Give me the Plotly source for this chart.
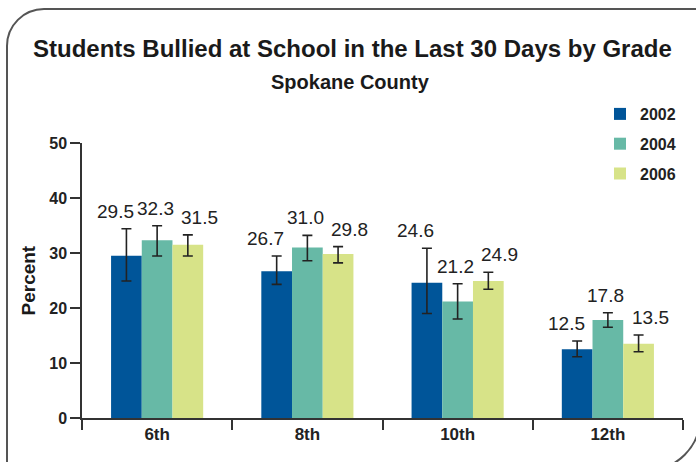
import plotly.graph_objects as go

# ---------------- data ----------------
grades = ["6th", "8th", "10th", "12th"]
years = ["2002", "2004", "2006"]
pct_2002 = [29.5, 26.7, 24.6, 12.5]
pct_2004 = [32.3, 31.0, 21.2, 17.8]
pct_2006 = [31.5, 29.8, 24.9, 13.5]
err_up_2002 = [4.9, 2.75, 6.25, 1.5]
err_dn_2002 = [4.6, 2.4, 5.6, 1.35]
err_up_2004 = [2.65, 2.2, 3.2, 1.35]
err_dn_2004 = [2.85, 2.4, 3.2, 1.3]
err_up_2006 = [1.8, 1.35, 1.6, 1.6]
err_dn_2006 = [2.05, 1.6, 1.5, 1.45]
y_ticks = [0, 10, 20, 30, 40, 50]

title = "Students Bullied at School in the Last 30 Days by Grade"
subtitle = "Spokane County"
y_title = "Percent"

# ---------------- style ----------------
colors = ["#005599", "#67B9A6", "#D7E388"]
label_xshift = [-11, -2, 11.5]
SANS = "Liberation Sans, Arial, sans-serif"
NARROW = "Liberation Sans Narrow, Arial Narrow, Liberation Sans, sans-serif"
TXT = "#222222"
W, H = 696, 462
ML, MR, MT, MB = 82, 13, 143, 44
BARGAP = 0.387

values = [pct_2002, pct_2004, pct_2006]
ups = [err_up_2002, err_up_2004, err_up_2006]
dns = [err_dn_2002, err_dn_2004, err_dn_2006]

fig = go.Figure()
for k, yr in enumerate(years):
    fig.add_trace(go.Bar(
        x=grades, y=values[k], name=yr, legendgroup=yr,
        marker=dict(color=colors[k], line=dict(width=0)),
        error_y=dict(type="data", symmetric=False, array=ups[k], arrayminus=dns[k],
                     color="#222222", thickness=1.6, width=5),
    ))

# value labels above the error bars
bw = (1 - BARGAP) / len(years)
annotations = []
for k in range(len(years)):
    for i in range(len(grades)):
        annotations.append(dict(
            x=i + (k - 1) * bw, y=values[k][i] + ups[k][i], xref="x", yref="y",
            text=f"{values[k][i]:.1f}", showarrow=False, yanchor="bottom",
            yshift=5, xshift=label_xshift[k],
            font=dict(family=SANS, size=19, color=TXT)))

pw, ph = W - ML - MR, H - MT - MB
def px(x):
    return (x - ML) / pw
def py(y):
    return (H - MB - y) / ph

annotations += [
    dict(text=title, x=px(352), y=py(48), xref="paper", yref="paper",
         showarrow=False, xanchor="center", yanchor="middle",
         font=dict(family=SANS, size=24, color="#1a1a1a", weight="bold")),
    dict(text=subtitle, x=px(350), y=py(82), xref="paper", yref="paper",
         showarrow=False, xanchor="center", yanchor="middle",
         font=dict(family=SANS, size=20, color="#1a1a1a", weight="bold")),
    dict(text=y_title, x=px(28), y=0.5, xref="paper", yref="paper",
         showarrow=False, xanchor="center", yanchor="middle", textangle=-90,
         font=dict(family=SANS, size=19, color="#1a1a1a", weight="bold")),
]

# rounded frame around the figure
def P(x, y):
    return f"{px(x):.5f},{py(y):.5f}"
r1, r2, kap = 37, 52, 0.5523
frame = (f"M {P(7, 480)} L {P(7, 9 + r1)} "
         f"C {P(7, 9 + r1 - r1 * kap)} {P(7 + r1 - r1 * kap, 9)} {P(7 + r1, 9)} "
         f"L {P(700, 9)} L {P(700, 470 - r2)} "
         f"C {P(700, 470 - r2 + r2 * kap)} {P(700 - r2 + r2 * kap, 470)} {P(700 - r2, 470)} "
         f"L {P(7, 470)}")

fig.update_layout(
    width=W, height=H, margin=dict(l=ML, r=MR, t=MT, b=MB),
    paper_bgcolor="white", plot_bgcolor="white",
    barmode="group", bargap=BARGAP, bargroupgap=0,
    annotations=annotations,
    shapes=[dict(type="path", path=frame, xref="paper", yref="paper",
                 line=dict(color="#555555", width=2), layer="below")],
    legend=dict(x=px(600), y=py(97), xanchor="left", yanchor="top",
                font=dict(family=SANS, size=16, color=TXT, weight="bold"),
                tracegroupgap=6, bgcolor="rgba(0,0,0,0)"),
    xaxis=dict(type="category", showline=True, linecolor="#333333", linewidth=1.5,
               ticks="outside", ticklen=10, tickwidth=1.5, tickcolor="#333333",
               tickson="boundaries", showgrid=False, zeroline=False,
               tickfont=dict(family=NARROW, size=17, color=TXT, weight="bold")),
    yaxis=dict(range=[0, 50], tickvals=y_ticks, showline=True, linecolor="#333333",
               linewidth=1.5, ticks="outside", ticklen=10, tickwidth=1.5,
               tickcolor="#333333", showgrid=False, zeroline=False,
               tickfont=dict(family=SANS, size=16, color=TXT, weight="bold")),
)

fig.write_html("out.html", config={"displayModeBar": False},
               post_script="document.body.style.margin='0';")
